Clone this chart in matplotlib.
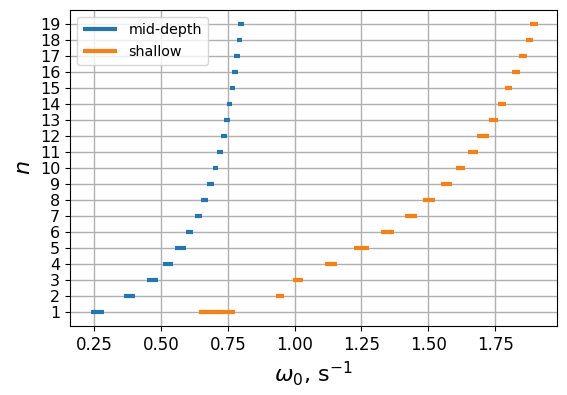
import matplotlib
matplotlib.use("Agg")
import matplotlib.pyplot as plt
import numpy as np

n = list(range(1, 20))
mid_lo = [0.238, 0.362, 0.447, 0.507, 0.552, 0.592, 0.627, 0.650, 0.672, 0.693,
          0.708, 0.723, 0.735, 0.747, 0.758, 0.765, 0.774, 0.783, 0.788]
mid_hi = [0.287, 0.402, 0.487, 0.543, 0.592, 0.618, 0.652, 0.674, 0.699, 0.714,
          0.732, 0.747, 0.758, 0.766, 0.778, 0.787, 0.796, 0.803, 0.809]
sh_lo = [0.641, 0.930, 0.992, 1.112, 1.223, 1.323, 1.412, 1.482, 1.547, 1.603,
         1.647, 1.682, 1.728, 1.760, 1.789, 1.814, 1.838, 1.864, 1.881]
sh_hi = [0.778, 0.959, 1.030, 1.158, 1.278, 1.372, 1.457, 1.524, 1.589, 1.639,
         1.687, 1.729, 1.760, 1.790, 1.814, 1.844, 1.870, 1.891, 1.910]

fig = plt.figure(figsize=(5.67, 3.95), dpi=100)
ax = fig.add_axes([0.1235, 0.175, 0.858, 0.8])
ax.hlines(n, mid_lo, mid_hi, colors="#1f77b4", linewidth=3, label="mid-depth")
ax.hlines(n, sh_lo, sh_hi, colors="#ff7f0e", linewidth=3, label="shallow")
ax.set_xlim(0.159, 1.98)
ax.set_ylim(0.1, 19.9)
ax.set_yticks(n)
ax.set_xticks([0.25, 0.5, 0.75, 1.0, 1.25, 1.5, 1.75])
ax.tick_params(axis="x", labelsize=12)
ax.tick_params(axis="y", labelsize=11.5)
ax.grid(True, color="#b0b0b0", linewidth=1)
ax.set_axisbelow(True)
ax.set_xlabel(r"$\omega_0$, s$^{-1}$", fontsize=16)
ax.set_ylabel(r"$n$", fontsize=16)
ax.legend(loc="upper left", fontsize=10.3, handlelength=2.4, labelspacing=0.6)
fig.savefig("out.png", dpi=100)
